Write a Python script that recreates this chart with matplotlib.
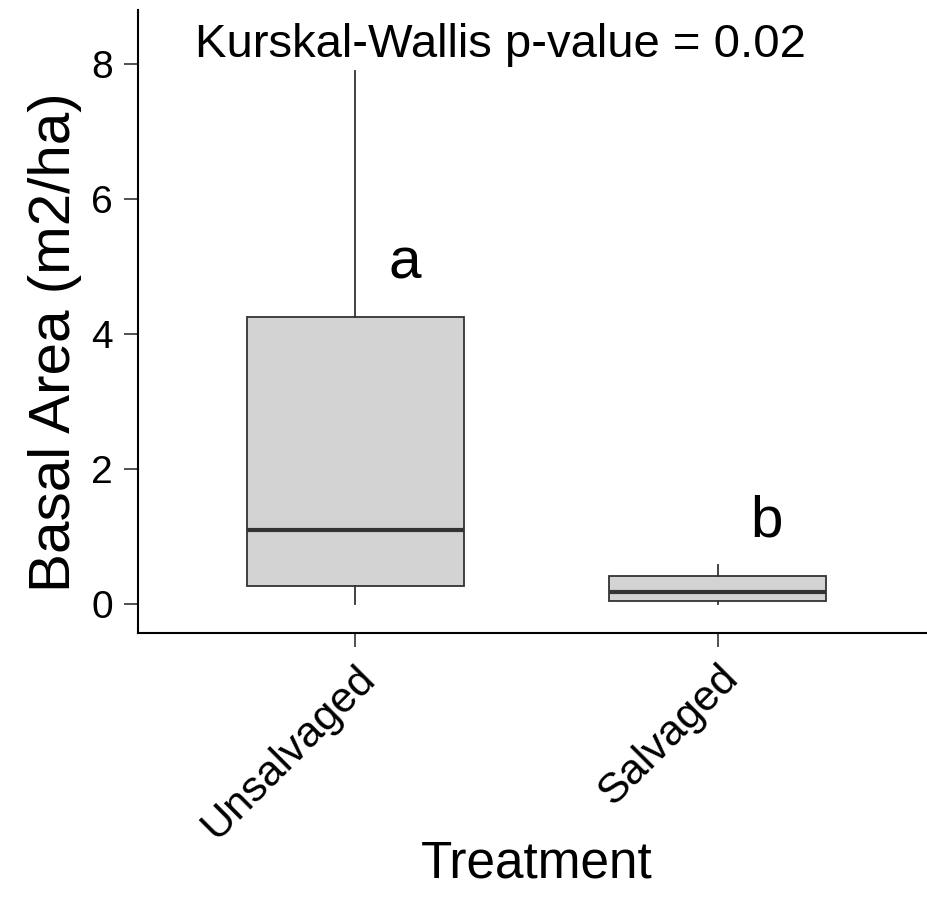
import matplotlib
matplotlib.use("Agg")
import matplotlib.pyplot as plt

plt.rcParams['font.family'] = ['Liberation Sans', 'DejaVu Sans']

treatments = ["Unsalvaged", "Salvaged"]
whisker_low = [0.0, 0.0]
q1 = [0.27, 0.05]
medians = [1.1, 0.18]
q3 = [4.25, 0.41]
whisker_high = [7.9, 0.58]
letters = ["a", "b"]
letter_y = [5.05, 1.22]

stats = []
for i, name in enumerate(treatments):
    stats.append(dict(label=name, whislo=whisker_low[i], q1=q1[i], med=medians[i],
                      q3=q3[i], whishi=whisker_high[i], fliers=[]))

fig = plt.figure(figsize=(9.27, 9.17), dpi=100)
ax = fig.add_axes([0.1489, 0.3097, 0.8597, 0.6793])

ax.bxp(stats, positions=[1, 2], widths=0.6, showcaps=False, patch_artist=True,
       boxprops=dict(facecolor="#d3d3d3", edgecolor="#333333", linewidth=1.3),
       medianprops=dict(color="#333333", linewidth=3),
       whiskerprops=dict(color="#333333", linewidth=1.3))

for i, let in enumerate(letters):
    ax.text(i + 1.135, letter_y[i], let, fontsize=42, ha="center", va="center")

ax.text(1.40, 8.28, "Kurskal-Wallis p-value = 0.02", fontsize=34,
        ha="center", va="center")

ax.set_xlim(0.4, 2.6)
ax.set_ylim(-0.43, 8.8)
ax.set_yticks([0, 2, 4, 6, 8])
ax.set_xticks([1, 2])
ax.set_xticklabels(treatments, rotation=45, ha="right", rotation_mode="anchor")
ax.tick_params(length=10, width=1.2, color="#333333", pad=8)
ax.tick_params(axis="y", labelsize=28)
ax.tick_params(axis="x", labelsize=31)

for s in ["top", "right"]:
    ax.spines[s].set_visible(False)
for s in ["left", "bottom"]:
    ax.spines[s].set_linewidth(1.5)

ax.set_ylabel("Basal Area (m2/ha)", fontsize=42)
ax.yaxis.set_label_coords(-0.07, 0.467)
ax.set_xlabel("Treatment", fontsize=37)
ax.xaxis.set_label_coords(0.5, -0.331)

fig.savefig("out.png", dpi=100)
